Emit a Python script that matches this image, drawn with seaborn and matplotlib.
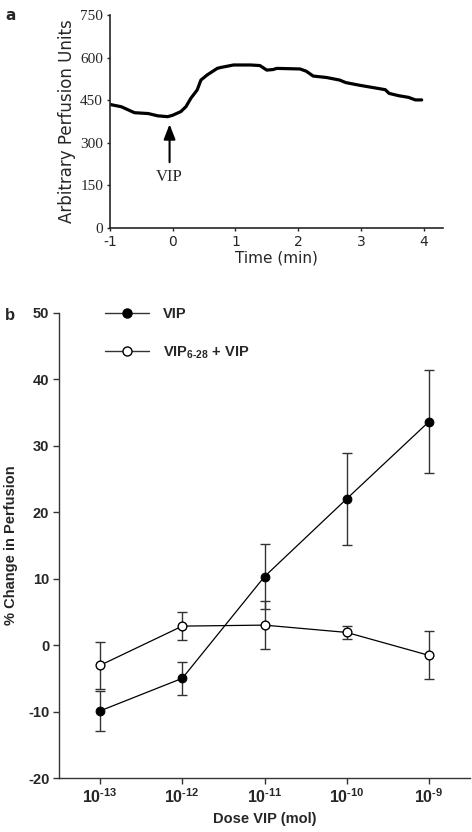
import numpy as np
import pandas as pd
import matplotlib
matplotlib.use('Agg')
import matplotlib.pyplot as plt
import seaborn as sns
from matplotlib.lines import Line2D

# panel a: perfusion trace
time_min = [-1.0, -0.82, -0.61, -0.39, -0.24, -0.08, 0.0, 0.13, 0.21, 0.29,
            0.39, 0.45, 0.55, 0.71, 0.76, 0.97, 1.24, 1.39, 1.5, 1.6,
            1.66, 2.03, 2.13, 2.24, 2.45, 2.66, 2.76, 2.97, 3.18, 3.39,
            3.45, 3.6, 3.76, 3.87, 3.97]
perfusion = [435, 427, 406, 403, 395, 392, 397, 410, 427, 457,
             486, 521, 539, 562, 565, 574, 574, 572, 556, 558,
             562, 560, 552, 535, 530, 521, 512, 503, 495, 487,
             474, 466, 460, 451, 451]

# panel b: dose response
dose_exp = [-13, -12, -11, -10, -9]
vip_mean = [-9.9, -5.0, 10.3, 22.0, 33.6]
vip_err = [3.0, 2.5, 4.9, 6.9, 7.75]
ant_mean = [-3.05, 2.85, 3.0, 1.9, -1.55]
ant_err = [3.5, 2.1, 3.6, 1.0, 3.6]

sns.set_style('ticks')
plt.rcParams['font.family'] = ['DejaVu Sans']
plt.rcParams['axes.unicode_minus'] = False
plt.rcParams['mathtext.fontset'] = 'custom'
plt.rcParams['mathtext.rm'] = 'Liberation Sans:bold'
plt.rcParams['mathtext.bf'] = 'Liberation Sans:bold'

fig = plt.figure(figsize=(4.72, 8.32), dpi=100)

# ---------- panel a ----------
ax1 = fig.add_axes([110/472, 1-228/832, 333/472, 213/832])
df_a = pd.DataFrame({'t': time_min, 'v': perfusion})
sns.lineplot(data=df_a, x='t', y='v', ax=ax1, color='black', lw=2.3)
ax1.set_xlim(-1, 4.31)
ax1.set_ylim(0, 750)
ax1.set_yticks([0, 150, 300, 450, 600, 750])
ax1.set_xticks([-1, 0, 1, 2, 3, 4])
for lab in ax1.get_yticklabels():
    lab.set_family('Liberation Serif')
    lab.set_fontsize(11)
for lab in ax1.get_xticklabels():
    lab.set_fontsize(10)
ax1.tick_params(length=2, width=1, pad=3)
ax1.set_xlabel('Time (min)', fontsize=11, labelpad=1)
ax1.set_ylabel('Arbitrary Perfusion Units', fontsize=12, labelpad=3)
for s in ['top', 'right']:
    ax1.spines[s].set_visible(False)
for s in ['left', 'bottom']:
    ax1.spines[s].set_linewidth(1.2)
ax1.annotate('', xy=(-0.05, 375), xytext=(-0.05, 222),
             arrowprops=dict(arrowstyle='-|>,head_width=0.35,head_length=0.9',
                             color='black', lw=1.5))
ax1.text(-0.05, 180, 'VIP', family='Liberation Serif', fontsize=12,
         ha='center', va='center')
fig.text(5/472, 1-15/832, 'a', fontsize=11, fontweight='bold',
         ha='left', va='center')

# ---------- panel b ----------
ax2 = fig.add_axes([59/472, 1-778/832, 411/472, 465.3/832])
df_b = pd.DataFrame({
    'dose': [10.0**e for e in dose_exp] * 2,
    'change': vip_mean + ant_mean,
    'group': ['VIP'] * 5 + ['ANT'] * 5,
})
ax2.set_xscale('log')
ax2.errorbar([10.0**e for e in dose_exp], vip_mean, yerr=vip_err, fmt='none',
             ecolor='#333333', elinewidth=1, capsize=3.5, capthick=1)
ax2.errorbar([10.0**e for e in dose_exp], ant_mean, yerr=ant_err, fmt='none',
             ecolor='#333333', elinewidth=1, capsize=3.5, capthick=1)
sns.lineplot(data=df_b[df_b.group == 'VIP'], x='dose', y='change', ax=ax2,
             color='black', lw=0.9, marker='o', markersize=6.3,
             markerfacecolor='black', markeredgecolor='black', zorder=3)
sns.lineplot(data=df_b[df_b.group == 'ANT'], x='dose', y='change', ax=ax2,
             color='black', lw=0.9, marker='o', markersize=6.3,
             markerfacecolor='white', markeredgecolor='black',
             markeredgewidth=1, zorder=3)
ax2.set_xlim(10**-13.5, 10**-8.5)
ax2.set_ylim(-20, 50)
ax2.set_yticks(range(-20, 51, 10))
ax2.set_xticks([10.0**e for e in dose_exp])
ax2.set_xticklabels([r'$\mathbf{10^{\text{-}%d}}$' % abs(e) for e in dose_exp],
                    fontsize=11.5)
ax2.minorticks_off()
for lab in ax2.get_yticklabels():
    lab.set_family('Liberation Sans')
    lab.set_fontweight('bold')
    lab.set_fontsize(10.5)
ax2.tick_params(length=4, width=1, pad=3, color='#333333')
ax2.tick_params(axis='x', pad=3)
ax2.set_xlabel('Dose VIP (mol)', family='Liberation Sans', fontweight='bold',
               fontsize=10.5, labelpad=4)
ax2.set_ylabel('% Change in Perfusion', family='Liberation Sans',
               fontweight='bold', fontsize=10.5)
ax2.yaxis.set_label_coords(-41/411, 0.5)
for s in ['top', 'right']:
    ax2.spines[s].set_visible(False)
for s in ['left', 'bottom']:
    ax2.spines[s].set_linewidth(1)
    ax2.spines[s].set_color('#333333')

handles = [
    Line2D([], [], color='#333333', lw=1, marker='o', markersize=6.5,
           markerfacecolor='black', markeredgecolor='black'),
    Line2D([], [], color='#333333', lw=1, marker='o', markersize=6.5,
           markerfacecolor='white', markeredgecolor='black'),
]
labels = ['VIP', r'VIP$_{\mathbf{6\text{-}28}}$ + VIP']
leg = ax2.legend(handles, labels, loc='upper left', bbox_to_anchor=(0.08, 1.041),
                 frameon=False, handlelength=3.0, labelspacing=1.6,
                 handletextpad=1.0,
                 prop={'family': 'Liberation Sans', 'weight': 'bold', 'size': 10.5})
fig.text(5/472, 1-315/832, 'b', fontsize=12, fontweight='bold',
         family='Liberation Sans', ha='left', va='center')

fig.savefig('out.png', dpi=100)
